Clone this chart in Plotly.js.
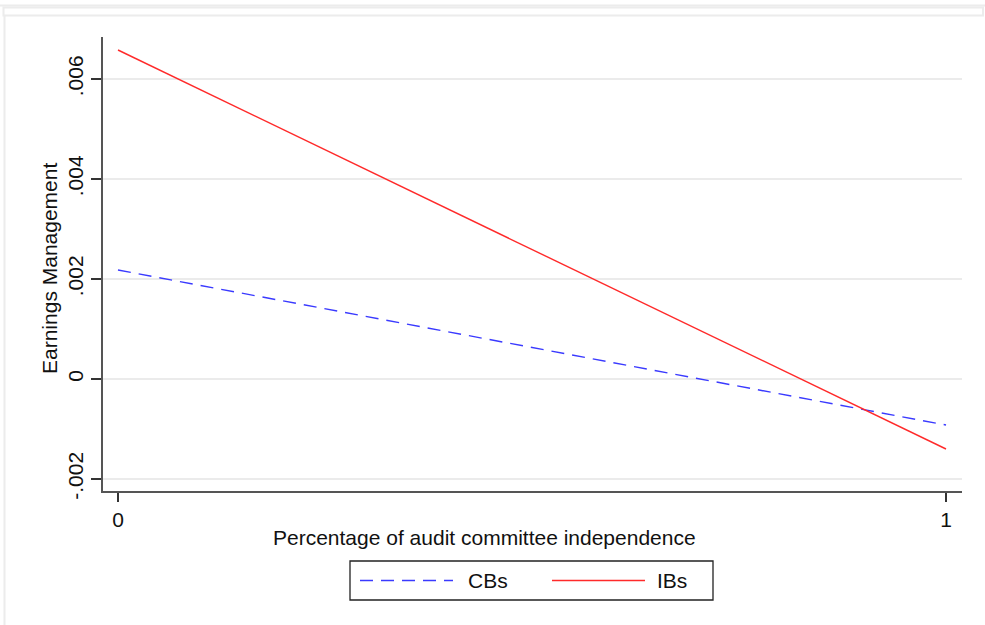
<!DOCTYPE html>
<html>
<head>
<meta charset="utf-8">
<script src="https://cdn.plot.ly/plotly-3.0.1.min.js"></script>
<style>
  html, body { margin: 0; padding: 0; background: #ffffff; }
  #chart { width: 985px; height: 625px; }
</style>
</head>
<body>
<div id="chart"></div>
<script>
// Share of independent audit committee members (0 to 1)
const independence = [0, 1];
// Predicted earnings management by bank type
const cbValues = [0.00218, -0.00092];
const ibValues = [0.00658, -0.00140];
const seriesNames = ['CBs', 'IBs'];

// Axis ticks in Stata-style number format
const yTickVals = [-0.002, 0, 0.002, 0.004, 0.006];
const yTickText = ['-.002', '0', '.002', '.004', '.006'];
const xTickVals = [0, 1];
const xTickText = ['0', '1'];
const xTitle = 'Percentage of audit committee independence';
const yTitle = 'Earnings Management';

const font = 'Liberation Sans, Arial, sans-serif';
const textColor = '#111111';
const fontSize = 21;
const blue = '#3a3aff';
const red = '#ff2a2a';

// Plot area in pixels, used to place decorations in paper units
const W = 985, H = 625;
const M = { l: 103, r: 23, t: 37, b: 134 };
const pw = W - M.l - M.r, ph = H - M.t - M.b;
const px = (v) => (v - M.l) / pw;
const py = (v) => (H - M.b - v) / ph;

const traces = [
  {
    x: independence, y: cbValues, name: seriesNames[0], mode: 'lines',
    line: { color: blue, width: 1.4, dash: '13px,8px' }, showlegend: false
  },
  {
    x: independence, y: ibValues, name: seriesNames[1], mode: 'lines',
    line: { color: red, width: 1.4 }, showlegend: false
  }
];

// Legend box below the plot plus the faint outer frame of the graph window
const legY = py(580.5);
const shapes = [
  { type: 'rect', xref: 'paper', yref: 'paper', x0: px(350), x1: px(713), y0: py(600), y1: py(561),
    line: { color: '#222', width: 1.3 }, fillcolor: 'rgba(0,0,0,0)' },
  { type: 'line', xref: 'paper', yref: 'paper', x0: px(360), x1: px(453), y0: legY, y1: legY,
    line: { color: blue, width: 1.4, dash: '13px,8px' } },
  { type: 'line', xref: 'paper', yref: 'paper', x0: px(552), x1: px(645), y0: legY, y1: legY,
    line: { color: red, width: 1.4 } },
  { type: 'line', xref: 'paper', yref: 'paper', x0: px(0), x1: px(985), y0: py(5.5), y1: py(5.5),
    line: { color: '#ececec', width: 2 } },
  { type: 'rect', xref: 'paper', yref: 'paper', x0: px(3.5), x1: px(983), y0: py(15.5), y1: py(7.5),
    line: { color: '#ececec', width: 2 }, fillcolor: 'rgba(0,0,0,0)' },
  { type: 'line', xref: 'paper', yref: 'paper', x0: px(4.5), x1: px(4.5), y0: py(15), y1: py(625),
    line: { color: '#ececec', width: 2 } }
];
const txt = { family: font, size: fontSize, color: textColor };
const annotations = [
  { xref: 'paper', yref: 'paper', x: px(466), y: legY, text: seriesNames[0], showarrow: false,
    xanchor: 'left', yanchor: 'middle', font: txt },
  { xref: 'paper', yref: 'paper', x: px(655), y: legY, text: seriesNames[1], showarrow: false,
    xanchor: 'left', yanchor: 'middle', font: txt },
  // Axis titles
  { xref: 'paper', yref: 'paper', x: px(484), y: py(537), text: xTitle, showarrow: false,
    xanchor: 'center', yanchor: 'middle', font: txt },
  { xref: 'paper', yref: 'paper', x: px(49), y: py(269), text: yTitle, showarrow: false,
    textangle: -90, xanchor: 'center', yanchor: 'middle', font: txt }
];

const layout = {
  width: W, height: H,
  margin: M,
  paper_bgcolor: '#ffffff', plot_bgcolor: '#ffffff',
  font: txt,
  showlegend: false,
  xaxis: {
    range: [-0.0181, 1.0193], tickvals: xTickVals, ticktext: xTickText,
    tickfont: txt,
    showgrid: false, zeroline: false, showline: true, linecolor: '#555', linewidth: 2,
    ticks: 'outside', ticklen: 9, tickwidth: 1.5, tickcolor: '#333'
  },
  yaxis: {
    range: [-0.00224, 0.00684], tickvals: yTickVals, ticktext: yTickText, tickangle: -90,
    tickfont: txt,
    showgrid: true, gridcolor: '#ebebeb', gridwidth: 1.5, zeroline: false,
    showline: true, linecolor: '#555', linewidth: 2,
    ticks: 'outside', ticklen: 10, tickwidth: 1.5, tickcolor: '#333'
  },
  shapes: shapes,
  annotations: annotations
};

Plotly.newPlot('chart', traces, layout, { displayModeBar: false, staticPlot: true });
</script>
</body>
</html>
